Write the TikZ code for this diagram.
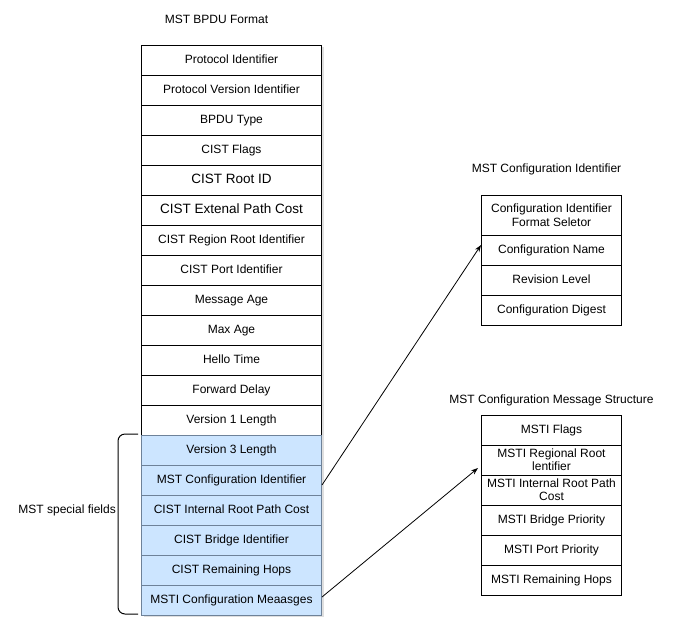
\documentclass[tikz,border=0pt]{standalone}
\usepackage{fontspec}
\setmainfont{Liberation Sans}
\usetikzlibrary{arrows.meta,shadows}

\definecolor{fieldblue}{HTML}{CCE5FF}
\definecolor{fieldline}{HTML}{6E8299}

\begin{document}
\begin{tikzpicture}[%
x=1pt, y=-1pt,
font=\fontsize{12}{14}\selectfont,
>={Stealth[length=7pt,width=5pt]},
field/.style={draw=black, fill=white, line width=1pt, minimum width=180pt, minimum height=30pt, inner sep=0pt, text height=8.6pt, text depth=2.5pt, drop shadow={shadow xshift=2pt, shadow yshift=-2pt, opacity=0.25, fill=gray}},
bigfield/.style={field, font=\fontsize{13.5}{15}\selectfont, text height=9.7pt, text depth=2.8pt},
special/.style={field, draw=fieldline, fill=fieldblue},
subfield/.style={draw=black, fill=white, line width=1pt, minimum width=140pt, minimum height=30pt, inner sep=0pt, align=center},
onefield/.style={subfield, text height=8.6pt, text depth=2.5pt},
title/.style={inner sep=0pt},
]
\useasboundingbox (0,0) rectangle (676,637);
%% titles;
\node [title] (bpdutitle) at (216.5,19) {MST BPDU Format};
\node [title] (cfgtitle) at (546.5,169) {MST Configuration Identifier};
\node [title] (msgtitle) at (551.5,400) {MST Configuration Message Structure};
%% MST BPDU fields;
\node [field] (protoid) at (231.5,60) {Protocol Identifier};
\node [field] (protover) at (231.5,90) {Protocol Version Identifier};
\node [field] (bpdutype) at (231.5,120) {BPDU Type};
\node [field] (cistflags) at (231.5,150) {CIST Flags};
\node [bigfield] (cistroot) at (231.5,180) {CIST Root ID};
\node [bigfield] (cistext) at (231.5,210) {CIST Extenal Path Cost};
\node [field] (cistregion) at (231.5,240) {CIST Region Root Identifier};
\node [field] (cistport) at (231.5,270) {CIST Port Identifier};
\node [field] (msgage) at (231.5,300) {Message Age};
\node [field] (maxage) at (231.5,330) {Max Age};
\node [field] (hello) at (231.5,360) {Hello Time};
\node [field] (fwddelay) at (231.5,390) {Forward Delay};
\node [field] (v1len) at (231.5,420) {Version 1 Length};
%% MST special fields;
\node [special] (v3len) at (231.5,450) {Version 3 Length};
\node [special] (mstcfg) at (231.5,480) {MST Configuration Identifier};
\node [special] (cistint) at (231.5,510) {CIST Internal Root Path Cost};
\node [special] (cistbridge) at (231.5,540) {CIST Bridge Identifier};
\node [special] (cisthops) at (231.5,570) {CIST Remaining Hops};
\node [special] (msticfg) at (231.5,600) {MSTI Configuration Meaasges};
%% bracket;
\draw [line width=1pt, rounded corners=7pt] (138,434) -- (118,434) -- (118,614) -- (138,614);
\node [title, anchor=east] (speciallabel) at (116,510) {MST special fields};
%% MST configuration identifier;
\node [subfield, minimum height=40pt] (cfgsel) at (551.5,215) {Configuration Identifier\\Format Seletor};
\node [onefield] (cfgname) at (551.5,250) {Configuration Name};
\node [onefield] (revlevel) at (551.5,280) {Revision Level};
\node [onefield] (cfgdigest) at (551.5,310) {Configuration Digest};
%% MSTI configuration message;
\node [onefield] (mstiflags) at (551.5,430) {MSTI Flags};
\node [subfield, font=\fontsize{12}{13}\selectfont] (mstiregion) at (551.5,460) {MSTI Regional Root\\lentifier};
\node [subfield, font=\fontsize{12}{13}\selectfont] (mstiint) at (551.5,490) {MSTI Internal Root Path\\Cost};
\node [onefield] (mstibridge) at (551.5,520) {MSTI Bridge Priority};
\node [onefield] (mstiport) at (551.5,550) {MSTI Port Priority};
\node [onefield] (mstihops) at (551.5,580) {MSTI Remaining Hops};
%% arrows;
\draw [->, line width=0.8pt] ([yshift=-5pt]mstcfg.east) -- ([yshift=5pt]cfgname.west);
\draw [->, line width=0.8pt] ([yshift=3pt]msticfg.east) -- ([shift={(-3pt,-8pt)}]mstiregion.west);
\end{tikzpicture}
\end{document}
